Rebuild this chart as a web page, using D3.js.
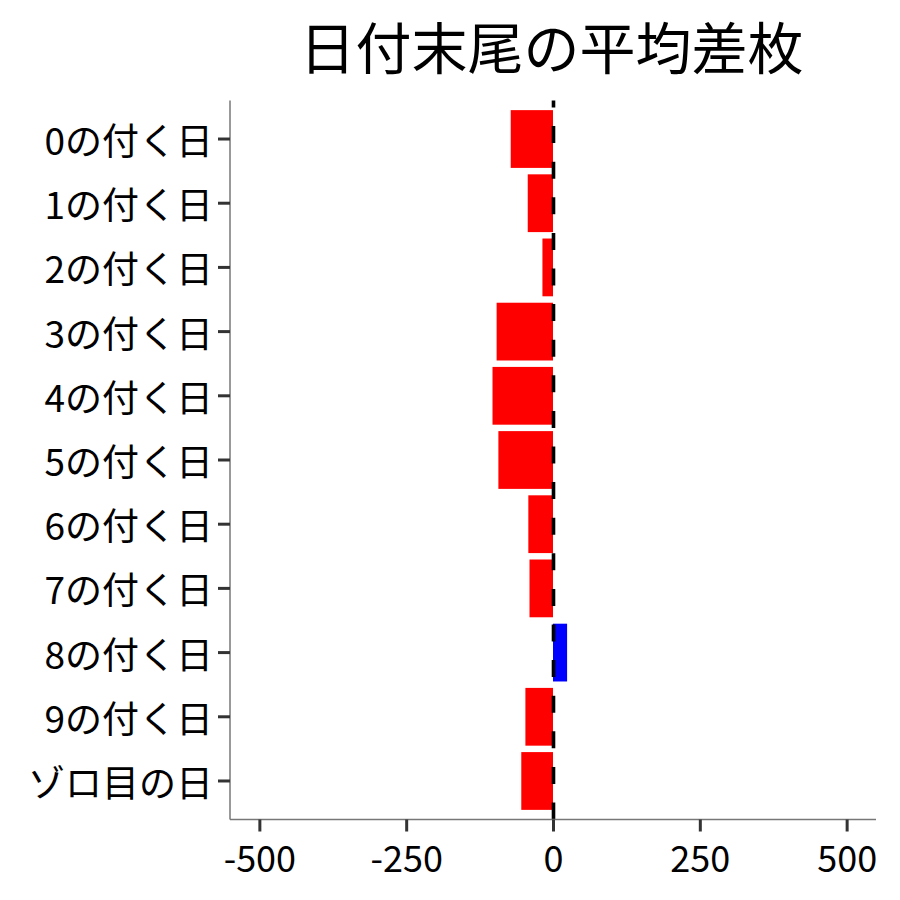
<!DOCTYPE html>
<html><head><meta charset="utf-8">
<script src="https://cdn.jsdelivr.net/npm/d3@7"></script>
<style>body{margin:0;background:#fff}</style>
</head><body>
<svg id="c" width="900" height="900"></svg>
<script>
const categories = ["0の付く日","1の付く日","2の付く日","3の付く日","4の付く日","5の付く日","6の付く日","7の付く日","8の付く日","9の付く日","ゾロ目の日"];
const values = [-72, -43, -18, -96, -103, -93, -42, -40, 24, -47, -54];
const xTicks = [-500, -250, 0, 250, 500];
const title = "日付末尾の平均差枚";

const font = "'Noto Sans CJK JP','Noto Sans',sans-serif";
const svg = d3.select("#c");
const L = 230, R = 876, T = 100.5, B = 819.5;
const x = d3.scaleLinear().domain([-550, 550]).range([L, R]);
const y = d3.scaleBand().domain(categories).range([T, B]).paddingInner(0.1).paddingOuter(0.15);

svg.append("text").attr("x", 551.5).attr("y", 44.5).attr("text-anchor", "middle")
  .attr("dominant-baseline", "central").style("font-family", font).style("font-size", "56px")
  .attr("fill", "#000").text(title);

svg.append("g").selectAll("rect").data(categories).join("rect")
  .attr("x", (d, i) => x(Math.min(0, values[i])))
  .attr("width", (d, i) => Math.abs(x(values[i]) - x(0)))
  .attr("y", d => y(d)).attr("height", y.bandwidth())
  .attr("fill", (d, i) => values[i] >= 0 ? "#0000ff" : "#ff0000");

// dashed zero line drawn bottom to top
svg.append("line").attr("x1", x(0) + 0.5).attr("x2", x(0) + 0.5).attr("y1", B).attr("y2", T)
  .attr("stroke", "#000").attr("stroke-width", 3.6).attr("stroke-dasharray", "17,18.6");

// y axis
const gy = svg.append("g").attr("transform", `translate(${L},0)`)
  .call(d3.axisLeft(y).tickSize(12).tickPadding(5));
gy.select(".domain").attr("stroke", "#777").attr("stroke-width", 1.5).attr("d", `M0,${T}V${B}`);
gy.selectAll(".tick line").attr("stroke", "#333").attr("stroke-width", 3);
gy.selectAll(".tick text").style("font-family", font).style("font-size", "37px").attr("fill", "#000")
  .attr("dy", null).attr("dominant-baseline", "central");

// x axis
const gx = svg.append("g").attr("transform", `translate(0,${B})`)
  .call(d3.axisBottom(x).tickValues(xTicks).tickSize(12).tickPadding(6).tickFormat(d => String(d)));
gx.select(".domain").attr("stroke", "#777").attr("stroke-width", 1.5).attr("d", `M${L},0H${R}`);
gx.selectAll(".tick line").attr("stroke", "#333").attr("stroke-width", 3);
gx.selectAll(".tick text").style("font-family", font).style("font-size", "36px").attr("fill", "#000")
  .attr("dy", null).attr("y", 36).attr("dominant-baseline", "central");
</script>
</body></html>
